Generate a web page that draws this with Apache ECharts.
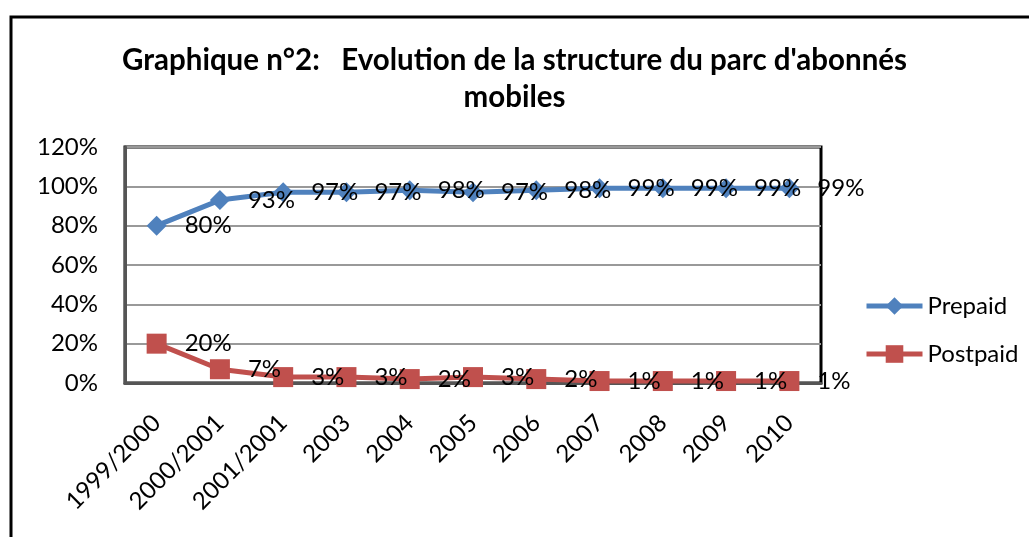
<!DOCTYPE html>
<html>
<head>
<meta charset="utf-8">
<script src="https://cdn.jsdelivr.net/npm/echarts@6/dist/echarts.min.js"></script>
<style>html,body{margin:0;padding:0;background:#fff;}#c{width:1029px;height:537px;}</style>
</head>
<body>
<div id="c"></div>
<script>
const categories = ['1999/2000','2000/2001','2001/2001','2003','2004','2005','2006','2007','2008','2009','2010'];
const prepaid = [80, 93, 97, 97, 98, 97, 98, 99, 99, 99, 99];
const postpaid = [20, 7, 3, 3, 2, 3, 2, 1, 1, 1, 1];
const yTicks = [0, 20, 40, 60, 80, 100, 120];
const titleText = "Graphique n°2:   Evolution de la structure du parc d'abonnés\nmobiles";

const FONT = 'Lato, "Open Sans", sans-serif';
const chart = echarts.init(document.getElementById('c'), null, {renderer: 'canvas'});
const lbl = {
  show: true, position: 'right', distance: 18,
  formatter: p => p.value + '%',
  color: '#000', fontFamily: FONT, fontSize: 24
};
chart.setOption({
  animation: false,
  backgroundColor: '#fff',
  title: {
    text: titleText, left: 'center', top: 37,
    textStyle: {fontFamily: FONT, fontWeight: 'bold', fontSize: 29.5, color: '#000', lineHeight: 37}
  },
  graphic: [{
    type: 'rect', shape: {x: 11, y: 17, width: 1040, height: 540},
    style: {fill: 'none', stroke: '#000', lineWidth: 3}, z: 100
  }],
  legend: {
    orient: 'vertical', left: 859, top: 289, itemGap: 24,
    itemWidth: 56, itemHeight: 22,
    lineStyle: {width: 5},
    textStyle: {fontFamily: FONT, fontSize: 24, color: '#000'},
    data: ['Prepaid', 'Postpaid']
  },
  grid: {left: 125, right: 208, top: 147, bottom: 154, show: true, borderColor: '#000', borderWidth: 3, containLabel: false},
  xAxis: {
    type: 'category', data: categories, boundaryGap: true,
    axisLine: {show: true, lineStyle: {color: '#555', width: 3}},
    axisTick: {show: false},
    axisLabel: {rotate: 45, fontFamily: FONT, fontSize: 24, color: '#000', margin: 36, interval: 0}
  },
  yAxis: {
    type: 'value', min: 0, max: 120, interval: 20,
    axisLine: {show: true, lineStyle: {color: '#555', width: 3}},
    axisTick: {show: false},
    splitLine: {lineStyle: {color: '#999', width: 2}},
    axisLabel: {formatter: v => yTicks.includes(v) ? v + '%' : '', fontFamily: FONT, fontSize: 24, color: '#000', margin: 27}
  },
  series: [{
    name: 'Prepaid', type: 'line', data: prepaid,
    symbol: 'diamond', symbolSize: 20,
    itemStyle: {color: '#4F81BD'}, lineStyle: {color: '#4F81BD', width: 5},
    label: lbl
  }, {
    name: 'Postpaid', type: 'line', data: postpaid,
    symbol: 'rect', symbolSize: 20,
    itemStyle: {color: '#C0504D'}, lineStyle: {color: '#C0504D', width: 5},
    label: lbl
  }]
});
</script>
</body>
</html>
